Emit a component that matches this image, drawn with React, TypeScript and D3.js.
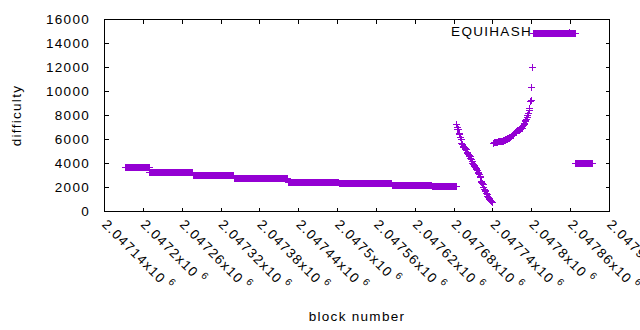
import * as d3 from "d3";

// flat runs of difficulty (first block, last block, value)
const stepStart = [2047173, 2047210, 2047277, 2047341, 2047424, 2047503, 2047585, 2047646, 2047803, 2047868];
const stepEnd = [2047209, 2047276, 2047340, 2047423, 2047502, 2047584, 2047645, 2047683, 2047867, 2047894];
const stepDifficulty = [3650, 3230, 2980, 2730, 2445, 2310, 2170, 2060, 14830, 3980];

// per-block values of the falling part
const dropStart = 2047684;
const dropValues = [
  7250, 7000, 6850, 6800, 6500, 6400, 6200, 5980, 5640, 5550, 5450, 5360, 5300, 5240, 5180,
  5140, 4950, 4860, 4780, 4700, 4620, 4580, 4420, 4310, 4150, 4025, 3900, 3800, 3750, 3650,
  3560, 3475, 3380, 3280, 3190, 3050, 2920, 2800, 2525, 2450, 2350, 2250, 1975, 1850, 1750,
  1650, 1525, 1400, 1250, 1150, 1060, 975, 920, 860, 810, 760, 725,
];

// per-block values of the rising part
const riseStart = 2047741;
const riseValues = [
  5700, 5750, 5770, 5780, 5780, 5790, 5790, 5800, 5800, 5810, 5820, 5830, 5840, 5850, 5860,
  5870, 5890, 5910, 5940, 5970, 6000, 6030, 6060, 6090, 6120, 6160, 6200, 6240, 6280, 6330,
  6370, 6420, 6460, 6520, 6580, 6650, 6700, 6720, 6750, 6760, 6780, 6800, 6850, 6900, 6950,
  7050, 7150, 7250, 7370, 7500, 7600, 7680, 7850, 8010, 8200, 8430, 8600, 9180, 9250, 10320,
  12040,
];

const xTickValues = d3.range(2047140, 2047921, 60);
const yTickValues = d3.range(0, 16001, 2000);
const seriesName = "EQUIHASH";

const width = 640;
const height = 330;
const marginLeft = 104;
const marginRight = 31;
const marginTop = 19;
const marginBottom = 119;
const color = "#9400d3";
const font = "'Liberation Sans', Arial, sans-serif";

function fmtBlock(v: number) {
  return (v / 1e6).toPrecision(6).replace(/0+$/, "").replace(/\.$/, "");
}

export default function App() {
  const x = d3.scaleLinear([2047140, 2047920], [marginLeft, width - marginRight]);
  const y = d3.scaleLinear([0, 16000], [height - marginBottom, marginTop]);

  const points: [number, number][] = [];
  stepStart.forEach((s, i) => {
    for (let b = s; b <= stepEnd[i]; b++) points.push([b, stepDifficulty[i]]);
  });
  dropValues.forEach((v, i) => points.push([dropStart + i, v]));
  riseValues.forEach((v, i) => points.push([riseStart + i, v]));

  const h = 3.5;
  const plus = (cx: number, cy: number) =>
    `M${cx - h},${cy}h${2 * h}M${cx},${cy - h}v${2 * h}`;
  const d = points
    .map(([b, v]) => plus(Math.round(x(b)) + 0.5, Math.round(y(v)) + 0.5))
    .join("");

  const x0 = marginLeft + 0.5;
  const x1 = width - marginRight + 0.5;
  const y0 = marginTop + 0.5;
  const y1 = height - marginBottom + 0.5;

  return (
    <svg width={width} height={height} style={{ position: "absolute", left: 0, top: 0, background: "#fff" }}>
      <g stroke="#000" strokeWidth={1} shapeRendering="crispEdges">
        {yTickValues.map((t) => {
          const yy = Math.round(y(t)) + 0.5;
          return (
            <g key={t}>
              <line x1={x0} x2={x0 + 4} y1={yy} y2={yy} />
              <line x1={x1} x2={x1 - 4} y1={yy} y2={yy} />
            </g>
          );
        })}
        {xTickValues.map((t) => {
          const xx = Math.round(x(t)) + 0.5;
          return (
            <g key={t}>
              <line x1={xx} x2={xx} y1={y1} y2={y1 - 4} />
              <line x1={xx} x2={xx} y1={y0} y2={y0 + 4} />
            </g>
          );
        })}
        <rect x={x0} y={y0} width={x1 - x0} height={y1 - y0} fill="none" />
      </g>

      <g fontFamily={font} fontSize={13.5} letterSpacing={1.3} fill="#000">
        {yTickValues.map((t) => (
          <text key={t} x={90} y={y(t)} textAnchor="end" dominantBaseline="central">
            {t}
          </text>
        ))}
        {xTickValues.map((t) => (
          <text
            key={t}
            transform={`translate(${x(t) + 4},${y1 + 7}) rotate(45)`}
            dominantBaseline="hanging"
          >
            {fmtBlock(t)}x10
            <tspan dx={4} dy={-4} fontSize={10}>6</tspan>
          </text>
        ))}
        <text x={(x0 + x1) / 2} y={321} textAnchor="middle">block number</text>
        <text transform={`translate(21,${(y0 + y1) / 2}) rotate(-90)`} textAnchor="middle">
          difficulty
        </text>
        <text x={532} y={31.5} textAnchor="end" dominantBaseline="central">
          {seriesName}
        </text>
      </g>

      <path d={d} fill="none" stroke={color} strokeWidth={1} shapeRendering="crispEdges" />
      <path d={plus(569.5, 32.5)} fill="none" stroke={color} strokeWidth={1} shapeRendering="crispEdges" />
    </svg>
  );
}
